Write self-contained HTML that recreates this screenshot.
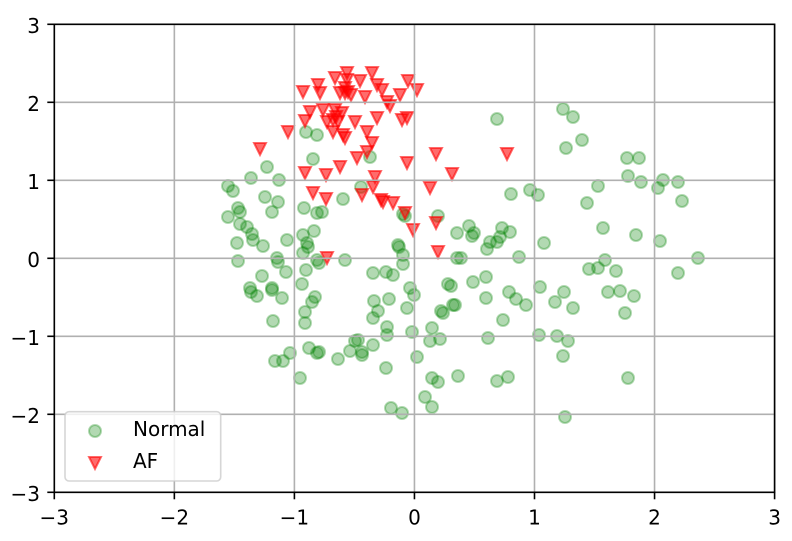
<!DOCTYPE html>
<html><head><meta charset="utf-8">
<style>
html,body{margin:0;padding:0;background:#fff;}
svg{display:block;}
.g{fill:#008000;fill-opacity:.3;stroke:#008000;stroke-opacity:.3;stroke-width:2;}
.r{fill:#ff0000;fill-opacity:.58;stroke:#ff0000;stroke-opacity:.58;stroke-width:2;}
.gl{stroke:#b0b0b0;stroke-width:1.6;}
.t{font-family:"DejaVu Sans","Liberation Sans",sans-serif;font-size:20px;fill:#000;}
</style></head><body>
<svg width="792" height="541" viewBox="0 0 792 541" xmlns="http://www.w3.org/2000/svg">
<defs><path id="v" d="M-6 -6H6L0 6Z"/></defs>
<rect width="792" height="541" fill="#fff"/>
<g class="g">
<circle cx="306" cy="132" r="6"/><circle cx="317" cy="135" r="6"/><circle cx="313" cy="159" r="6"/><circle cx="370" cy="157" r="6"/><circle cx="267" cy="167" r="6"/><circle cx="251" cy="178" r="6"/><circle cx="279" cy="180" r="6"/><circle cx="228" cy="186" r="6"/><circle cx="233" cy="191" r="6"/><circle cx="265" cy="197" r="6"/><circle cx="278" cy="202" r="6"/><circle cx="272" cy="212" r="6"/><circle cx="238" cy="208" r="6"/><circle cx="240" cy="212" r="6"/><circle cx="228" cy="217" r="6"/><circle cx="304" cy="208" r="6"/><circle cx="317" cy="213" r="6"/><circle cx="322" cy="212" r="6"/><circle cx="343" cy="199" r="6"/><circle cx="361" cy="187" r="6"/><circle cx="403" cy="214" r="6"/><circle cx="405" cy="216" r="6"/><circle cx="438" cy="216" r="6"/>
<circle cx="240" cy="224" r="6"/><circle cx="247" cy="227" r="6"/><circle cx="252" cy="234" r="6"/><circle cx="253" cy="240" r="6"/><circle cx="263" cy="246" r="6"/><circle cx="237" cy="243" r="6"/><circle cx="287" cy="240" r="6"/><circle cx="314" cy="231" r="6"/><circle cx="303" cy="235" r="6"/><circle cx="307" cy="243" r="6"/><circle cx="308" cy="247" r="6"/><circle cx="303" cy="253" r="6"/><circle cx="238" cy="261" r="6"/><circle cx="277" cy="258" r="6"/><circle cx="278" cy="262" r="6"/><circle cx="286" cy="272" r="6"/><circle cx="262" cy="276" r="6"/><circle cx="250" cy="288" r="6"/><circle cx="272" cy="288" r="6"/><circle cx="306" cy="270" r="6"/><circle cx="302" cy="284" r="6"/><circle cx="317" cy="260" r="6"/><circle cx="319" cy="263" r="6"/><circle cx="345" cy="260" r="6"/><circle cx="373" cy="273" r="6"/><circle cx="386" cy="272" r="6"/><circle cx="393" cy="275" r="6"/><circle cx="398" cy="245" r="6"/><circle cx="399" cy="247" r="6"/><circle cx="403" cy="255" r="6"/><circle cx="403" cy="264" r="6"/><circle cx="410" cy="288" r="6"/><circle cx="414" cy="295" r="6"/><circle cx="457" cy="233" r="6"/><circle cx="457" cy="258" r="6"/><circle cx="448" cy="284" r="6"/><circle cx="451" cy="286" r="6"/>
<circle cx="251" cy="292" r="6"/><circle cx="257" cy="296" r="6"/><circle cx="272" cy="290" r="6"/><circle cx="282" cy="298" r="6"/><circle cx="315" cy="297" r="6"/><circle cx="312" cy="302" r="6"/><circle cx="305" cy="312" r="6"/><circle cx="305" cy="323" r="6"/><circle cx="273" cy="321" r="6"/><circle cx="374" cy="301" r="6"/><circle cx="389" cy="299" r="6"/><circle cx="378" cy="311" r="6"/><circle cx="373" cy="318" r="6"/><circle cx="407" cy="308" r="6"/><circle cx="453" cy="305" r="6"/><circle cx="443" cy="313" r="6"/><circle cx="441" cy="311" r="6"/><circle cx="387" cy="327" r="6"/><circle cx="387" cy="335" r="6"/><circle cx="412" cy="332" r="6"/><circle cx="432" cy="328" r="6"/><circle cx="430" cy="341" r="6"/><circle cx="440" cy="339" r="6"/><circle cx="358" cy="340" r="6"/><circle cx="355" cy="341" r="6"/><circle cx="373" cy="345" r="6"/><circle cx="362" cy="352" r="6"/><circle cx="362" cy="355" r="6"/><circle cx="350" cy="351" r="6"/><circle cx="338" cy="359" r="6"/><circle cx="309" cy="348" r="6"/><circle cx="317" cy="353" r="6"/><circle cx="319" cy="352" r="6"/><circle cx="290" cy="353" r="6"/><circle cx="283" cy="361" r="6"/><circle cx="275" cy="361" r="6"/><circle cx="300" cy="378" r="6"/><circle cx="386" cy="368" r="6"/><circle cx="417" cy="357" r="6"/><circle cx="432" cy="378" r="6"/><circle cx="438" cy="382" r="6"/><circle cx="458" cy="376" r="6"/><circle cx="425" cy="397" r="6"/><circle cx="432" cy="407" r="6"/><circle cx="391" cy="408" r="6"/><circle cx="402" cy="413" r="6"/>
<circle cx="497" cy="119" r="6"/><circle cx="563" cy="109" r="6"/><circle cx="573" cy="117" r="6"/><circle cx="582" cy="140" r="6"/><circle cx="566" cy="148" r="6"/><circle cx="627" cy="158" r="6"/><circle cx="639" cy="158" r="6"/><circle cx="628" cy="176" r="6"/><circle cx="641" cy="182" r="6"/><circle cx="663" cy="180" r="6"/><circle cx="658" cy="188" r="6"/><circle cx="678" cy="182" r="6"/><circle cx="682" cy="201" r="6"/><circle cx="598" cy="186" r="6"/><circle cx="587" cy="203" r="6"/><circle cx="511" cy="194" r="6"/><circle cx="530" cy="190" r="6"/><circle cx="538" cy="195" r="6"/><circle cx="603" cy="228" r="6"/><circle cx="636" cy="235" r="6"/><circle cx="660" cy="241" r="6"/><circle cx="698" cy="258" r="6"/><circle cx="544" cy="243" r="6"/><circle cx="469" cy="226" r="6"/><circle cx="472" cy="236" r="6"/><circle cx="474" cy="233" r="6"/><circle cx="502" cy="228" r="6"/><circle cx="510" cy="232" r="6"/><circle cx="500" cy="237" r="6"/><circle cx="490" cy="242" r="6"/><circle cx="497" cy="242" r="6"/><circle cx="487" cy="249" r="6"/><circle cx="461" cy="258" r="6"/><circle cx="519" cy="257" r="6"/>
<circle cx="589" cy="269" r="6"/><circle cx="598" cy="268" r="6"/><circle cx="605" cy="260" r="6"/><circle cx="616" cy="271" r="6"/><circle cx="678" cy="273" r="6"/><circle cx="473" cy="282" r="6"/><circle cx="486" cy="277" r="6"/><circle cx="486" cy="298" r="6"/><circle cx="455" cy="305" r="6"/><circle cx="509" cy="292" r="6"/><circle cx="516" cy="299" r="6"/><circle cx="526" cy="305" r="6"/><circle cx="503" cy="320" r="6"/><circle cx="540" cy="287" r="6"/><circle cx="564" cy="292" r="6"/><circle cx="555" cy="302" r="6"/><circle cx="573" cy="308" r="6"/><circle cx="608" cy="292" r="6"/><circle cx="620" cy="291" r="6"/><circle cx="634" cy="296" r="6"/><circle cx="625" cy="313" r="6"/><circle cx="488" cy="338" r="6"/><circle cx="539" cy="335" r="6"/><circle cx="557" cy="336" r="6"/><circle cx="568" cy="341" r="6"/><circle cx="563" cy="356" r="6"/><circle cx="497" cy="381" r="6"/><circle cx="508" cy="377" r="6"/><circle cx="628" cy="378" r="6"/><circle cx="565" cy="417" r="6"/>
</g>
<g class="r">
<use href="#v" x="303" y="92"/><use href="#v" x="318" y="85"/><use href="#v" x="320" y="93"/><use href="#v" x="335" y="78"/><use href="#v" x="347" y="73"/><use href="#v" x="347" y="80"/><use href="#v" x="345" y="88"/><use href="#v" x="340" y="93"/><use href="#v" x="345" y="93"/><use href="#v" x="348" y="92"/><use href="#v" x="351" y="95"/><use href="#v" x="360" y="81"/><use href="#v" x="365" y="97"/><use href="#v" x="372" y="73"/><use href="#v" x="377" y="85"/><use href="#v" x="382" y="90"/><use href="#v" x="387" y="102"/><use href="#v" x="390" y="106"/><use href="#v" x="400" y="95"/><use href="#v" x="408" y="81"/><use href="#v" x="417" y="90"/>
<use href="#v" x="310" y="112"/><use href="#v" x="305" y="121"/><use href="#v" x="323" y="110"/><use href="#v" x="335" y="110"/><use href="#v" x="342" y="113"/><use href="#v" x="327" y="122"/><use href="#v" x="333" y="120"/><use href="#v" x="336" y="117"/><use href="#v" x="338" y="122"/><use href="#v" x="333" y="132"/><use href="#v" x="343" y="135"/><use href="#v" x="345" y="138"/><use href="#v" x="355" y="122"/><use href="#v" x="377" y="118"/><use href="#v" x="402" y="120"/><use href="#v" x="407" y="118"/><use href="#v" x="367" y="132"/><use href="#v" x="372" y="143"/><use href="#v" x="288" y="132"/><use href="#v" x="260" y="149"/>
<use href="#v" x="367" y="152"/><use href="#v" x="357" y="158"/><use href="#v" x="340" y="167"/><use href="#v" x="407" y="163"/><use href="#v" x="436" y="154"/><use href="#v" x="507" y="154"/><use href="#v" x="305" y="173"/><use href="#v" x="326" y="175"/><use href="#v" x="452" y="174"/><use href="#v" x="375" y="177"/><use href="#v" x="373" y="187"/><use href="#v" x="430" y="188"/><use href="#v" x="313" y="193"/><use href="#v" x="326" y="199"/><use href="#v" x="362" y="195"/><use href="#v" x="381" y="200"/><use href="#v" x="383" y="202"/><use href="#v" x="393" y="203"/><use href="#v" x="405" y="213"/><use href="#v" x="413" y="230"/><use href="#v" x="436" y="223"/><use href="#v" x="438" y="252"/><use href="#v" x="327" y="258"/>
</g>
<g class="gl">
<line x1="54.3" y1="24.3" x2="54.3" y2="492.3"/><line x1="174.35" y1="24.3" x2="174.35" y2="492.3"/><line x1="294.4" y1="24.3" x2="294.4" y2="492.3"/><line x1="414.45" y1="24.3" x2="414.45" y2="492.3"/><line x1="534.5" y1="24.3" x2="534.5" y2="492.3"/><line x1="654.55" y1="24.3" x2="654.55" y2="492.3"/><line x1="774.6" y1="24.3" x2="774.6" y2="492.3"/>
<line x1="54.3" y1="24.3" x2="774.6" y2="24.3"/><line x1="54.3" y1="102.3" x2="774.6" y2="102.3"/><line x1="54.3" y1="180.3" x2="774.6" y2="180.3"/><line x1="54.3" y1="258.3" x2="774.6" y2="258.3"/><line x1="54.3" y1="336.3" x2="774.6" y2="336.3"/><line x1="54.3" y1="414.3" x2="774.6" y2="414.3"/><line x1="54.3" y1="492.3" x2="774.6" y2="492.3"/>
</g>
<rect x="54.3" y="24.3" width="720.3" height="468" fill="none" stroke="#000" stroke-width="1.6"/>
<g stroke="#000" stroke-width="1.6">
<line x1="54.3" y1="492.3" x2="54.3" y2="499.3"/><line x1="174.35" y1="492.3" x2="174.35" y2="499.3"/><line x1="294.4" y1="492.3" x2="294.4" y2="499.3"/><line x1="414.45" y1="492.3" x2="414.45" y2="499.3"/><line x1="534.5" y1="492.3" x2="534.5" y2="499.3"/><line x1="654.55" y1="492.3" x2="654.55" y2="499.3"/><line x1="774.6" y1="492.3" x2="774.6" y2="499.3"/>
<line x1="47.3" y1="24.3" x2="54.3" y2="24.3"/><line x1="47.3" y1="102.3" x2="54.3" y2="102.3"/><line x1="47.3" y1="180.3" x2="54.3" y2="180.3"/><line x1="47.3" y1="258.3" x2="54.3" y2="258.3"/><line x1="47.3" y1="336.3" x2="54.3" y2="336.3"/><line x1="47.3" y1="414.3" x2="54.3" y2="414.3"/><line x1="47.3" y1="492.3" x2="54.3" y2="492.3"/>
</g>
<g class="t" text-anchor="middle">
<text x="54.3" y="524.3">−3</text><text x="174.35" y="524.3">−2</text><text x="294.4" y="524.3">−1</text><text x="414.45" y="524.3">0</text><text x="534.5" y="524.3">1</text><text x="654.55" y="524.3">2</text><text x="774.6" y="524.3">3</text>
</g>
<g class="t" text-anchor="end">
<text x="40" y="33">3</text><text x="40" y="111">2</text><text x="40" y="189">1</text><text x="40" y="267">0</text><text x="40" y="345">−1</text><text x="40" y="423">−2</text><text x="40" y="501">−3</text>
</g>
<rect x="65" y="411.7" width="155.7" height="69.3" rx="4" ry="4" fill="#fff" fill-opacity="0.8" stroke="#cccccc" stroke-opacity="0.8" stroke-width="1.6"/>
<circle class="g" cx="95" cy="431" r="6"/>
<use class="r" href="#v" x="95" y="463"/>
<text class="t" x="133" y="436">Normal</text>
<text class="t" x="133" y="468">AF</text>
</svg>
</body></html>
